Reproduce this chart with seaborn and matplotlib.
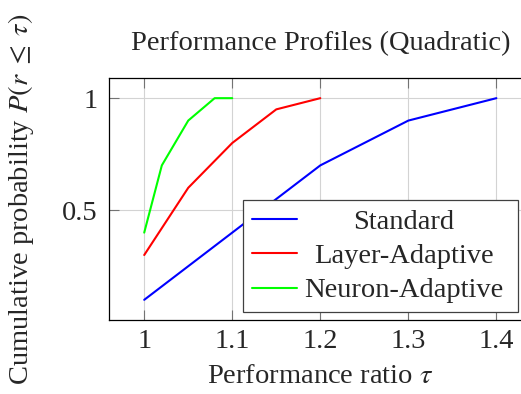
import numpy as np
import pandas as pd
import matplotlib
matplotlib.use("Agg")
import matplotlib.pyplot as plt
import seaborn as sns
from matplotlib.offsetbox import DrawingArea

# ---- data ----
std_x = [1.0, 1.1, 1.2, 1.3, 1.4]
std_y = [0.1, 0.4, 0.7, 0.9, 1.0]
layer_x = [1.0, 1.05, 1.1, 1.15, 1.2]
layer_y = [0.3, 0.6, 0.8, 0.95, 1.0]
neuron_x = [1.0, 1.02, 1.05, 1.08, 1.1]
neuron_y = [0.4, 0.7, 0.9, 1.0, 1.0]
methods = ["Standard", "Layer-Adaptive", "Neuron-Adaptive"]
x_ticks = [1.0, 1.1, 1.2, 1.3, 1.4]
x_tick_labels = ["1", "1.1", "1.2", "1.3", "1.4"]
y_ticks = [0.5, 1.0]
y_tick_labels = ["0.5", "1"]

df = pd.concat([
    pd.DataFrame({"tau": std_x, "p": std_y, "method": methods[0]}),
    pd.DataFrame({"tau": layer_x, "p": layer_y, "method": methods[1]}),
    pd.DataFrame({"tau": neuron_x, "p": neuron_y, "method": methods[2]}),
])
palette = {methods[0]: "#0000ff", methods[1]: "#ff0000", methods[2]: "#00ff00"}

FS = 20.5

# ---- style ----
sns.set_theme(style="whitegrid")
plt.rcParams["font.family"] = ["Liberation Serif", "DejaVu Serif"]
plt.rcParams["mathtext.fontset"] = "stix"
plt.rcParams["font.size"] = FS

fig = plt.figure(figsize=(5.21, 3.94), dpi=100)
# right end of the x range (1.44) lies just past the picture edge, as in the reference
ax = fig.add_axes([109 / 521, 74 / 394, 422.6 / 521, 242 / 394])

sns.lineplot(data=df, x="tau", y="p", hue="method", hue_order=methods,
             palette=palette, linewidth=1.5, sort=False, ax=ax)

ax.set_xlim(0.96, 1.44)
ax.set_ylim(0.01, 1.09)
ax.set_xticks(x_ticks)
ax.set_xticklabels(x_tick_labels)
ax.set_yticks(y_ticks)
ax.set_yticklabels(y_tick_labels)

ax.grid(True, color="#d3d3d3", linewidth=0.8)
ax.set_facecolor("white")
for s in ax.spines.values():
    s.set_visible(True)
    s.set_color("black")
    s.set_linewidth(0.9)
ax.spines["right"].set_visible(False)
# stop top/bottom frame lines at the picture edge (avoids a clipping artefact)
ax.spines["top"].set_bounds(0.96, 1.4275)
ax.spines["bottom"].set_bounds(0.96, 1.4275)

ax.tick_params(axis="both", which="major", direction="in", length=7,
               width=0.8, color="0.45", labelsize=FS,
               top=True, right=False, bottom=True, left=True)
ax.tick_params(axis="x", pad=6.5)
ax.tick_params(axis="y", pad=8)

ax.set_title("Performance Profiles (Quadratic)", fontsize=FS, pad=20)
ax.set_xlabel(r"Performance ratio $\tau$", fontsize=FS)
ax.set_ylabel(r"Cumulative probability $P(r\;\leq\;\tau)$", fontsize=FS)
ax.xaxis.set_label_coords((320 - 109) / 422.6, -0.18)
ax.yaxis.set_label_coords(-0.172, 0.5)

# ---- legend ----
handles, labels = ax.get_legend_handles_labels()
leg = ax.legend(handles, labels, loc="lower left",
                bbox_to_anchor=(0.317, 0.033, 0.651, 0.47), mode="expand",
                borderaxespad=0, borderpad=0.3, handlelength=1.6,
                handletextpad=0.12, labelspacing=0.3, fontsize=FS,
                fancybox=False, framealpha=1, edgecolor="0.25")
leg.get_frame().set_linewidth(0.9)

# center the labels inside the legend box (pgfplots style)
fig.canvas.draw()
renderer = fig.canvas.get_renderer()
texts = leg.get_texts()
widths = [t.get_window_extent(renderer).width for t in texts]
maxw = max(widths)
px2pt = 72.0 / fig.dpi
for col in leg._legend_handle_box.get_children():
    for item, w in zip(col.get_children(), widths):
        pad = (maxw - w) / 2 * px2pt
        item._children.insert(1, DrawingArea(pad, 1))

fig.savefig("out.png", dpi=100)
